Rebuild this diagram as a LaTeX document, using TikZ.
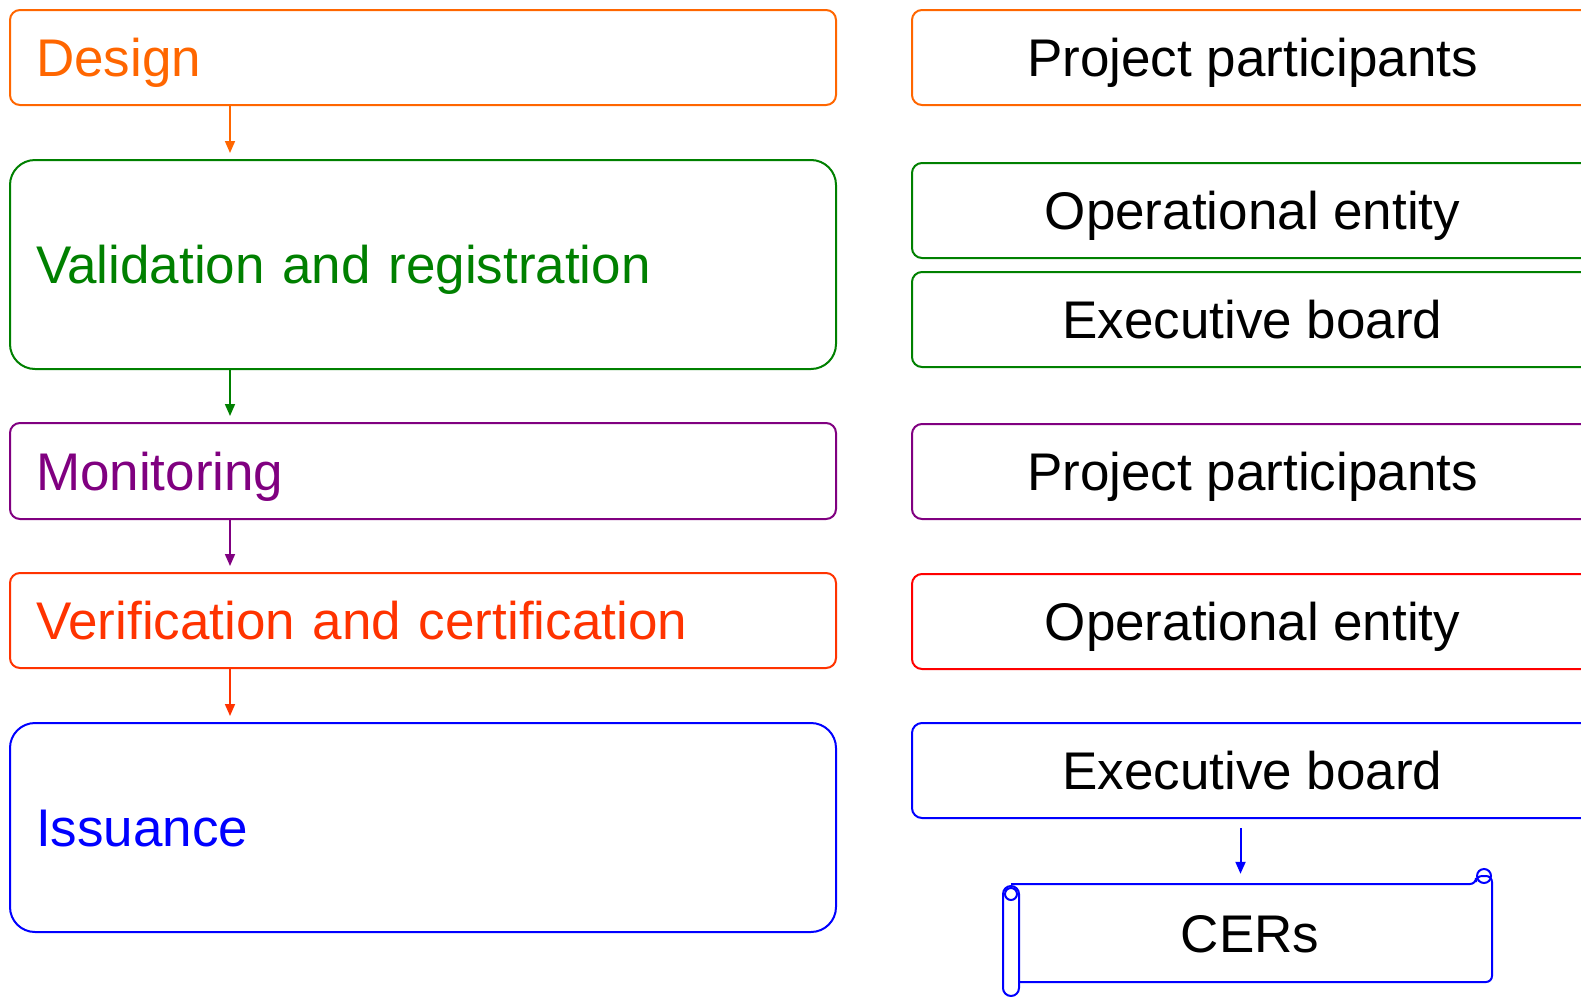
\documentclass[tikz,border=0pt]{standalone}
\usepackage{fontspec}
\setmainfont{Liberation Sans}
\usetikzlibrary{calc,positioning,arrows.meta}
\definecolor{dorange}{HTML}{FF6600}
\definecolor{dgreen}{HTML}{008000}
\definecolor{dpurple}{HTML}{800080}
\definecolor{dred}{HTML}{FF3300}
\definecolor{dblue}{HTML}{0000FF}
\tikzset{px/.style={x={(1pt,0pt)},y={(0pt,-1pt)}},
stage/.style={draw,line width=2pt,rounded corners=10pt,anchor=north west,inner xsep=26pt,text width=774pt,align=left,text height=38pt,text depth=0pt,font=\fontsize{53}{60}\selectfont},
who/.style={draw,line width=2pt,rounded corners=10pt,anchor=north west,minimum width=681pt,minimum height=95pt,text height=38pt,text depth=0pt,font=\fontsize{53}{60}\selectfont},
arr/.style={line width=1.7pt,-{Triangle[length=12pt,width=10pt]},shorten >=6pt}}
\begin{document}
\begin{tikzpicture}[px]
\useasboundingbox (0,0) rectangle (1581,996);
\clip (0,0) rectangle (1581,996);
\node[stage,dorange,minimum height=95pt] (des) at (9,9) {Design};
\node[stage,dgreen,minimum height=209pt,rounded corners=25pt] (val) at (9,159) {Validation and registration};
\node[stage,dpurple,minimum height=96pt] (mon) at (9,422) {Monitoring};
\node[stage,dred,minimum height=95pt] (ver) at (9,572) {Verification and certification};
\node[stage,dblue,minimum height=209pt,rounded corners=25pt] (iss) at (9,722) {Issuance};
\node[who,draw=dorange] (pp1) at (911,9) {Project participants};
\node[who,draw=dgreen] (oe1) at (911,162) {Operational entity};
\node[who,draw=dgreen] (eb1) at (911,271) {Executive board};
\node[who,draw=dpurple] (pp2) at (911,423) {Project participants};
\node[who,draw=red] (oe2) at (911,573) {Operational entity};
\node[who,draw=dblue] (eb2) at (911,722) {Executive board};
\node[minimum width=473pt,minimum height=98pt,text height=38pt,text depth=0pt,font=\fontsize{53}{60}\selectfont] (cers) at (1250,933) {CERs};
\foreach \a/\b/\c in {des/val/dorange,val/mon/dgreen,mon/ver/dpurple,ver/iss/dred}
\draw[arr,\c] ($(\a.south west)+(221,0)$) -- ($(\b.north west)+(221,0)$);
\draw[arr,dblue,line width=2pt,shorten <=9pt,shorten >=10pt] ([xshift=-12pt]eb2.south) -- ([xshift=-12pt]eb2.south |- cers.north);
\draw[dblue,line width=2pt,rounded corners=6pt] (1011,884) -- (1476,884) -- (1476,876) -- (1492,876) -- (1492,982) -- (1019,982);
\draw[dblue,line width=2pt,rounded corners=8pt] (1003,886) rectangle (1019,996);
\draw[dblue,line width=2pt] (1011,894) circle (6);
\draw[dblue,line width=2pt] (1484,876) circle (7);
\end{tikzpicture}
\end{document}
